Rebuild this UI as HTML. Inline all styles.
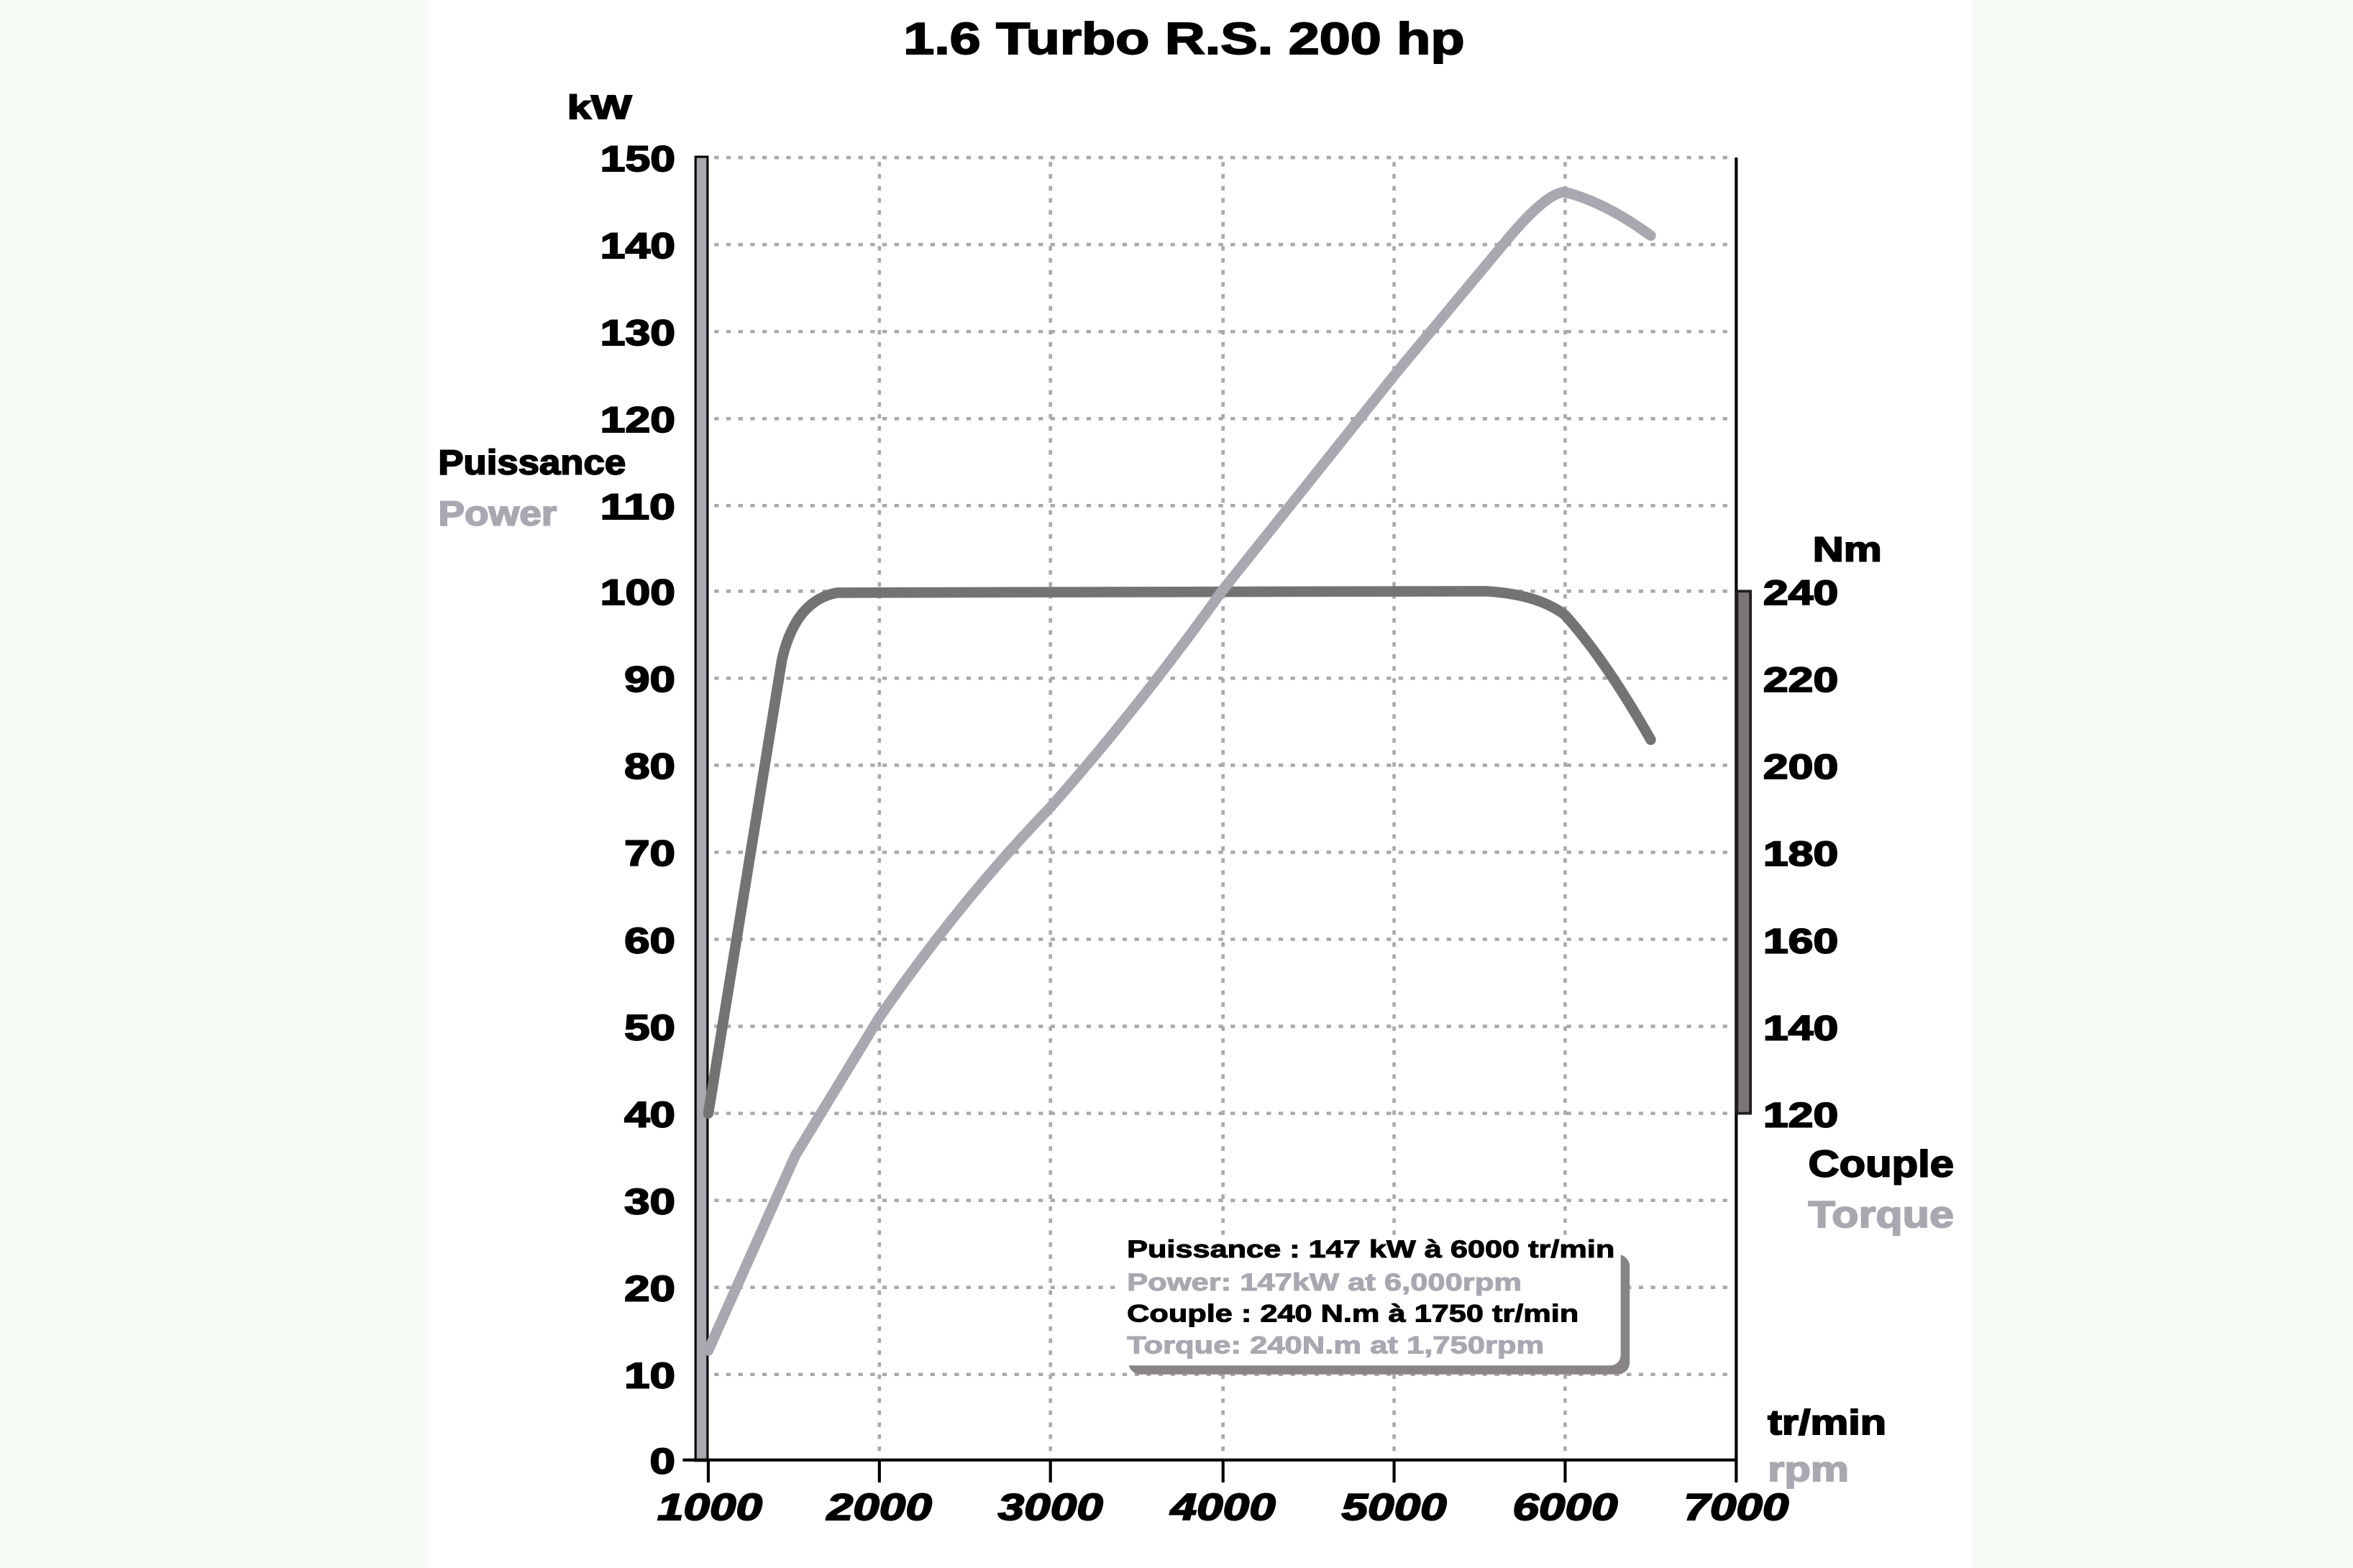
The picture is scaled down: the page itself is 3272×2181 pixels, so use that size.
<!DOCTYPE html>
<html><head><meta charset="utf-8"><style>
html,body{margin:0;padding:0;background:#f6fbf5;}
svg{display:block;}
text{font-family:"Liberation Sans",Arial,sans-serif;font-weight:bold;}
.k{stroke:#000;stroke-width:0.9;}
.g{fill:#a9a8b0;stroke:#a9a8b0;stroke-width:0.9;}
</style></head><body>
<svg width="3272" height="2181" viewBox="0 0 1568 1045" preserveAspectRatio="none" xmlns="http://www.w3.org/2000/svg">
<rect x="0" y="0" width="1568" height="1045" fill="#f6fbf5"/>
<rect x="285" y="0" width="1029" height="1045" fill="#ffffff"/>
<text class="k" x="602" y="36" font-size="30" textLength="374" lengthAdjust="spacingAndGlyphs">1.6 Turbo R.S. 200 hp</text>
<g stroke="#a8a8ae" stroke-width="2.2" stroke-dasharray="3,5" fill="none">
<line x1="476" y1="105" x2="1155" y2="105"/><line x1="476" y1="163" x2="1155" y2="163"/>
<line x1="476" y1="221" x2="1155" y2="221"/><line x1="476" y1="279" x2="1155" y2="279"/>
<line x1="476" y1="337" x2="1155" y2="337"/><line x1="476" y1="394" x2="1155" y2="394"/>
<line x1="476" y1="452" x2="1155" y2="452"/><line x1="476" y1="510" x2="1155" y2="510"/>
<line x1="476" y1="568" x2="1155" y2="568"/><line x1="476" y1="626" x2="1155" y2="626"/>
<line x1="476" y1="684" x2="1155" y2="684"/><line x1="476" y1="742" x2="1155" y2="742"/>
<line x1="476" y1="800" x2="1155" y2="800"/><line x1="476" y1="858" x2="1155" y2="858"/>
<line x1="476" y1="916" x2="1155" y2="916"/>
<line x1="586" y1="108" x2="586" y2="968"/><line x1="700" y1="108" x2="700" y2="968"/>
<line x1="815" y1="108" x2="815" y2="968"/><line x1="929" y1="108" x2="929" y2="968"/>
<line x1="1043" y1="108" x2="1043" y2="968"/>
</g>
<rect x="463.5" y="104.5" width="8" height="869" fill="#a9a8b0" stroke="#000" stroke-width="1.5"/>
<line x1="1157" y1="105" x2="1157" y2="975" stroke="#000" stroke-width="2"/>
<rect x="1157.5" y="394" width="9" height="348" fill="#7a7676" stroke="#221d1d" stroke-width="1.8"/>
<g stroke="#000" stroke-width="2">
<line x1="455" y1="973" x2="1157" y2="973"/>
<line x1="472" y1="973" x2="472" y2="988"/><line x1="586" y1="973" x2="586" y2="988"/>
<line x1="700" y1="973" x2="700" y2="988"/><line x1="815" y1="973" x2="815" y2="988"/>
<line x1="929" y1="973" x2="929" y2="988"/><line x1="1043" y1="973" x2="1043" y2="988"/>
<line x1="1157" y1="973" x2="1157" y2="988"/>
</g>
<g font-size="24" class="k">
<text x="400" y="114" textLength="50" lengthAdjust="spacingAndGlyphs">150</text>
<text x="400" y="172" textLength="50" lengthAdjust="spacingAndGlyphs">140</text>
<text x="400" y="230" textLength="50" lengthAdjust="spacingAndGlyphs">130</text>
<text x="400" y="288" textLength="50" lengthAdjust="spacingAndGlyphs">120</text>
<text x="400" y="346" textLength="50" lengthAdjust="spacingAndGlyphs">110</text>
<text x="400" y="403" textLength="50" lengthAdjust="spacingAndGlyphs">100</text>
<text x="416" y="461" textLength="34" lengthAdjust="spacingAndGlyphs">90</text>
<text x="416" y="519" textLength="34" lengthAdjust="spacingAndGlyphs">80</text>
<text x="416" y="577" textLength="34" lengthAdjust="spacingAndGlyphs">70</text>
<text x="416" y="635" textLength="34" lengthAdjust="spacingAndGlyphs">60</text>
<text x="416" y="693" textLength="34" lengthAdjust="spacingAndGlyphs">50</text>
<text x="416" y="751" textLength="34" lengthAdjust="spacingAndGlyphs">40</text>
<text x="416" y="809" textLength="34" lengthAdjust="spacingAndGlyphs">30</text>
<text x="416" y="867" textLength="34" lengthAdjust="spacingAndGlyphs">20</text>
<text x="416" y="925" textLength="34" lengthAdjust="spacingAndGlyphs">10</text>
<text x="433" y="982" textLength="17" lengthAdjust="spacingAndGlyphs">0</text>
</g>
<text class="k" x="378" y="79" font-size="22" textLength="43" lengthAdjust="spacingAndGlyphs">kW</text>
<text class="k" x="292" y="316" font-size="23" textLength="125" lengthAdjust="spacingAndGlyphs">Puissance</text>
<text class="g" x="292" y="350" font-size="23" textLength="79" lengthAdjust="spacingAndGlyphs">Power</text>
<g font-size="25" font-style="italic" class="k">
<text x="438" y="1013" textLength="70" lengthAdjust="spacingAndGlyphs">1000</text>
<text x="551" y="1013" textLength="70" lengthAdjust="spacingAndGlyphs">2000</text>
<text x="665" y="1013" textLength="70" lengthAdjust="spacingAndGlyphs">3000</text>
<text x="780" y="1013" textLength="70" lengthAdjust="spacingAndGlyphs">4000</text>
<text x="894" y="1013" textLength="70" lengthAdjust="spacingAndGlyphs">5000</text>
<text x="1008" y="1013" textLength="70" lengthAdjust="spacingAndGlyphs">6000</text>
<text x="1122" y="1013" textLength="70" lengthAdjust="spacingAndGlyphs">7000</text>
</g>
<g font-size="23">
<text class="k" x="1175" y="403" textLength="50" lengthAdjust="spacingAndGlyphs">240</text>
<text class="k" x="1175" y="461" textLength="50" lengthAdjust="spacingAndGlyphs">220</text>
<text class="k" x="1175" y="519" textLength="50" lengthAdjust="spacingAndGlyphs">200</text>
<text class="k" x="1175" y="577" textLength="50" lengthAdjust="spacingAndGlyphs">180</text>
<text class="k" x="1175" y="635" textLength="50" lengthAdjust="spacingAndGlyphs">160</text>
<text class="k" x="1175" y="693" textLength="50" lengthAdjust="spacingAndGlyphs">140</text>
<text class="k" x="1175" y="751" textLength="50" lengthAdjust="spacingAndGlyphs">120</text>
<text class="k" x="1208" y="374" textLength="46" lengthAdjust="spacingAndGlyphs">Nm</text>
<text class="k" x="1205" y="784" font-size="25" textLength="97" lengthAdjust="spacingAndGlyphs">Couple</text>
<text class="g" x="1205" y="818" font-size="25" textLength="97" lengthAdjust="spacingAndGlyphs">Torque</text>
<text class="k" x="1178" y="956" textLength="79" lengthAdjust="spacingAndGlyphs">tr/min</text>
<text class="g" x="1178" y="987" textLength="54" lengthAdjust="spacingAndGlyphs">rpm</text>
</g>
<path d="M472,742 L521,440 Q530,400 558,395 L990,394 Q1025,396 1043,410 Q1070,440 1100,493" fill="none" stroke="#737373" stroke-width="7" stroke-linecap="round" stroke-linejoin="round"/>
<path d="M472,900 L530,770 L586,678 Q640,600 700,538 Q760,470 815,393 L930,249 L1000,165 Q1030,128 1043,128 Q1070,135 1100,157" fill="none" stroke="#a9a8b0" stroke-width="7" stroke-linecap="round" stroke-linejoin="round"/>
<rect x="752" y="836" width="334" height="80" rx="8" fill="#8a8585"/>
<rect x="744" y="826" width="336" height="84" rx="7" fill="#ffffff"/>
<g font-size="16.5">
<text class="k" style="stroke-width:0.5" x="751" y="838" textLength="325" lengthAdjust="spacingAndGlyphs">Puissance : 147 kW à 6000 tr/min</text>
<text class="g" style="stroke-width:0.5" x="751" y="860" textLength="263" lengthAdjust="spacingAndGlyphs">Power: 147kW at 6,000rpm</text>
<text class="k" style="stroke-width:0.5" x="751" y="881" textLength="301" lengthAdjust="spacingAndGlyphs">Couple : 240 N.m à 1750 tr/min</text>
<text class="g" style="stroke-width:0.5" x="751" y="902" textLength="278" lengthAdjust="spacingAndGlyphs">Torque: 240N.m at 1,750rpm</text>
</g>
</svg>
</body></html>
